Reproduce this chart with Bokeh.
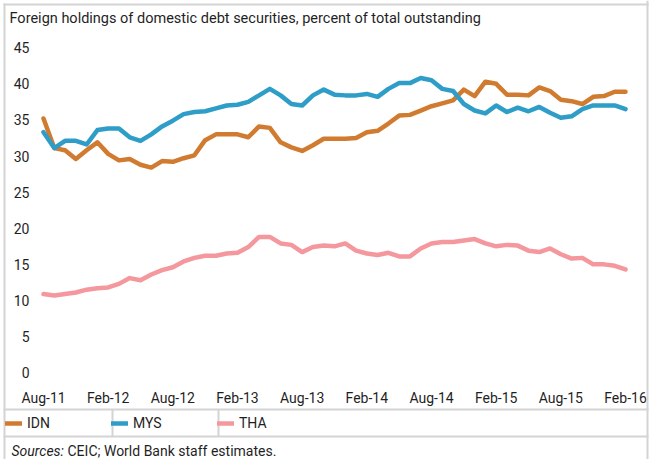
from bokeh.plotting import figure
from bokeh.models import Range1d, FixedTicker, Label, Legend, LegendItem, BoxAnnotation
from bokeh.embed import file_html
from bokeh.resources import INLINE

# ---- data (monthly, Aug-2011 .. Feb-2016) ----
months = list(range(55))
tick_positions = [0, 6, 12, 18, 24, 30, 36, 42, 48, 54]
tick_labels = ["Aug-11", "Feb-12", "Aug-12", "Feb-13", "Aug-13",
               "Feb-14", "Aug-14", "Feb-15", "Aug-15", "Feb-16"]
y_ticks = [0, 5, 10, 15, 20, 25, 30, 35, 40, 45]

idn = [35.2, 31.1, 30.8, 29.6, 30.8, 31.9, 30.3, 29.4, 29.6, 28.8,
       28.4, 29.3, 29.2, 29.7, 30.1, 32.2, 33.0, 33.0, 33.0, 32.6,
       34.1, 33.9, 31.9, 31.2, 30.7, 31.5, 32.4, 32.4, 32.4, 32.5,
       33.3, 33.5, 34.5, 35.6, 35.7, 36.3, 36.9, 37.3, 37.7, 39.2,
       38.3, 40.3, 40.0, 38.5, 38.5, 38.4, 39.5, 39.0, 37.8, 37.6,
       37.2, 38.2, 38.3, 38.9, 38.9]
mys = [33.3, 31.1, 32.1, 32.1, 31.6, 33.6, 33.8, 33.8, 32.6, 32.1,
       33.0, 34.1, 34.9, 35.8, 36.1, 36.2, 36.6, 37.0, 37.1, 37.5,
       38.4, 39.3, 38.4, 37.2, 37.0, 38.4, 39.2, 38.5, 38.4, 38.4,
       38.6, 38.2, 39.3, 40.1, 40.1, 40.8, 40.5, 39.3, 39.0, 37.2,
       36.3, 35.9, 37.0, 36.1, 36.7, 36.2, 36.8, 36.0, 35.3, 35.5,
       36.5, 37.0, 37.0, 37.0, 36.5]
tha = [10.9, 10.7, 10.9, 11.1, 11.5, 11.7, 11.8, 12.3, 13.1, 12.8,
       13.6, 14.2, 14.6, 15.4, 15.9, 16.2, 16.2, 16.5, 16.6, 17.4,
       18.8, 18.8, 17.9, 17.7, 16.7, 17.4, 17.6, 17.5, 17.9, 16.9,
       16.5, 16.3, 16.6, 16.1, 16.1, 17.2, 17.9, 18.1, 18.1, 18.3,
       18.5, 17.9, 17.5, 17.7, 17.6, 16.9, 16.7, 17.2, 16.4, 15.8,
       15.9, 15.0, 15.0, 14.8, 14.3]

series_names = ["IDN", "MYS", "THA"]
series_colors = ["#D07B2F", "#2E9DC8", "#F4989E"]

title_text = "Foreign holdings of domestic debt securities, percent of total outstanding"
source_label = "Sources:"
source_text = "CEIC; World Bank staff estimates."

FONT = "Roboto"
FS = "14px"
TXT = "#1f1f1f"
GRAY = "#d4d4d4"
W, H = 653, 459

# frame covers the whole canvas; axes are pinned with fixed_location
PX0, PXM = 43.0, 10.778      # pixel of month 0, pixels per month
PY0, PYU = 372.2, 7.222      # pixel of value 0, pixels per unit

p = figure(width=W, height=H,
           x_range=Range1d(-PX0 / PXM, (W - PX0) / PXM),
           y_range=Range1d(-(H - PY0) / PYU, PY0 / PYU),
           output_backend="svg", toolbar_location=None,
           min_border=0, min_border_left=0, min_border_right=0,
           min_border_top=0, min_border_bottom=0)
p.outline_line_color = None
p.grid.visible = False
p.background_fill_color = "white"
p.border_fill_color = "white"

for ax in (p.xaxis[0], p.yaxis[0]):
    ax.axis_line_color = None
    ax.major_tick_line_color = None
    ax.minor_tick_line_color = None
    ax.major_tick_out = 0
    ax.major_tick_in = 0
    ax.major_label_text_font = FONT
    ax.major_label_text_font_size = FS
    ax.major_label_text_color = TXT

p.yaxis[0].ticker = FixedTicker(ticks=y_ticks)
p.yaxis[0].fixed_location = (36 - PX0) / PXM
p.yaxis[0].major_label_standoff = 7
p.xaxis[0].ticker = FixedTicker(ticks=tick_positions)
p.xaxis[0].major_label_overrides = {t: l for t, l in zip(tick_positions, tick_labels)}
p.xaxis[0].fixed_location = -(385 - PY0) / PYU
p.xaxis[0].major_label_standoff = 4

renderers = []
for vals, col in zip([idn, mys, tha], series_colors):
    r = p.line(months, vals, line_color=col, line_width=4.5,
               line_join="round", line_cap="round")
    renderers.append(r)


def sy(Y):
    return H - Y


legend = Legend(items=[LegendItem(label=n, renderers=[r]) for n, r in zip(series_names, renderers)],
                orientation="horizontal", location=(5, sy(431)),
                glyph_width=17, glyph_height=14, label_standoff=5, label_width=80,
                spacing=4, padding=0, margin=0,
                border_line_color=None, background_fill_alpha=0,
                label_text_font=FONT, label_text_font_size=FS,
                label_text_color=TXT)
p.add_layout(legend, "center")


def box(left, right, top, bottom, **kw):
    return BoxAnnotation(left=left, right=right, top=sy(top), bottom=sy(bottom),
                         left_units="screen", right_units="screen",
                         top_units="screen", bottom_units="screen", **kw)


# frame lines of the exhibit
for (l, r, t, b) in [(3, 5, 3, 470),        # left border
                     (646, 648, 0, 470),    # right border
                     (3, 648, 3, 5),        # top border
                     (3, 648, 408, 410),    # above legend
                     (3, 648, 435, 437),    # below legend
                     (111, 113, 409, 436),  # divider
                     (217, 219, 409, 436)]:  # divider
    p.add_layout(box(l, r, t, b, fill_color=GRAY, fill_alpha=1, line_color=None))

p.add_layout(Label(x=9, y=sy(18), x_units="screen", y_units="screen",
                   text=title_text, text_font=FONT, text_font_size="14.5px",
                   text_color=TXT, text_baseline="middle", text_align="left"))
p.add_layout(Label(x=11, y=sy(450), x_units="screen", y_units="screen",
                   text=source_label, text_font=FONT, text_font_size=FS,
                   text_font_style="italic",
                   text_color=TXT, text_baseline="middle", text_align="left"))
p.add_layout(Label(x=67, y=sy(450), x_units="screen", y_units="screen",
                   text=source_text, text_font=FONT, text_font_size=FS,
                   text_color=TXT, text_baseline="middle", text_align="left"))

open("out.html", "w").write(file_html(p, INLINE))
